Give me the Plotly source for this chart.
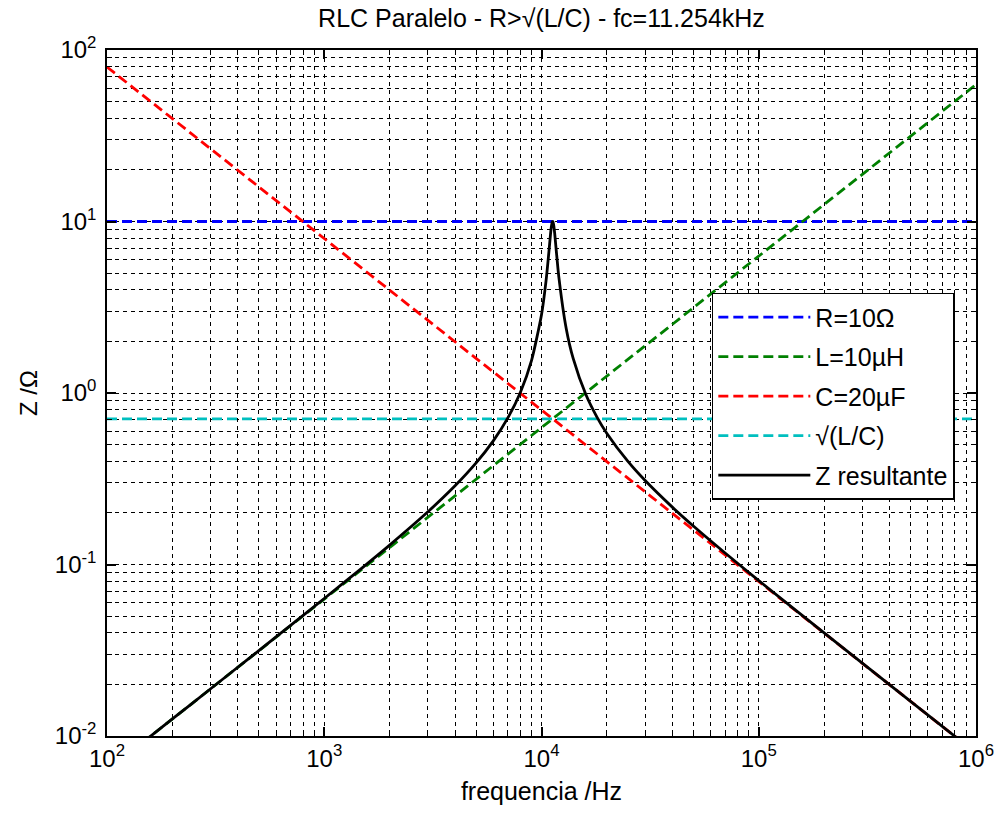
import plotly.graph_objects as go

# ---- data ----
freq_ends = [100, 1000000]
R_vals = [10, 10]
L_vals = [0.0062832, 62.832]
C_vals = [79.577, 0.0079577]
sq_vals = [0.7071, 0.7071]

z_freq = [100, 150, 200, 300, 500, 700, 1000, 1500, 2000, 3000, 4000, 5000, 6000, 7000,
          8000, 9000, 10000, 10500, 10800, 11000, 11100, 11200, 11254, 11300, 11400, 11500,
          11700, 12000, 13000, 14000, 16000, 18000, 20000, 25000, 30000, 40000, 50000,
          70000, 100000, 200000, 500000, 1000000]
z_vals = [0.006284, 0.009427, 0.01257, 0.018863, 0.031478, 0.044153, 0.063331, 0.095948,
          0.12975, 0.20287, 0.28755, 0.39112, 0.52597, 0.71553, 1.01092, 1.54988, 2.86103,
          4.5393, 6.5136, 8.4008, 9.3178, 9.9088, 10.0, 9.9339, 9.3949, 8.5305, 6.7278,
          4.8222, 2.37303, 1.58616, 0.97961, 0.72391, 0.58126, 0.39889, 0.30855, 0.216,
          0.16762, 0.11669, 0.080596, 0.039915, 0.015924, 0.0079588]

x_tickvals = [100, 1000, 10000, 100000, 1000000]
x_ticktext = ["10<sup>2</sup>", "10<sup>3</sup>", "10<sup>4</sup>", "10<sup>5</sup>", "10<sup>6</sup>"]
y_tickvals = [0.01, 0.1, 1, 10, 100]
y_ticktext = ["10<sup>-2</sup>", "10<sup>-1</sup>", "10<sup>0</sup>", "10<sup>1</sup>", "10<sup>2</sup>"]

names = ["R=10Ω", "L=10µH", "C=20µF", "√(L/C)", "Z resultante"]
colors = ["#0000FF", "#008000", "#FF0000", "#00BFBF", "#000000"]

FONT = "Liberation Sans, Arial, sans-serif"

fig = go.Figure()
for i, (vals, nm, col) in enumerate(zip([R_vals, L_vals, C_vals, sq_vals], names[:4], colors[:4])):
    fig.add_trace(go.Scatter(x=freq_ends, y=vals, mode="lines", name=nm, legendgroup=str(i),
                             line=dict(color=col, width=2.8, dash="10px,5px")))
fig.add_trace(go.Scatter(x=z_freq, y=z_vals, mode="lines", name=names[4], legendgroup="4",
                         line=dict(color=colors[4], width=2.8, shape="spline", smoothing=0.6)))

axis_common = dict(
    type="log", showline=True, linecolor="black", linewidth=1.5, mirror="allticks",
    ticks="inside", ticklen=9, tickwidth=1.5, tickcolor="black",
    showgrid=True, gridcolor="black", gridwidth=1, griddash="4px,4px",
    zeroline=False, automargin=False,
    tickfont=dict(family=FONT, size=24, color="black"),
    minor=dict(dtick="D1", ticks="inside", ticklen=5, tickcolor="black", tickwidth=1,
               showgrid=True, gridcolor="black", gridwidth=1, griddash="4px,4px"),
)

fig.update_xaxes(range=[2, 6], tickmode="array", tickvals=x_tickvals, ticktext=x_ticktext,
                 title=dict(text="frequencia /Hz", font=dict(family=FONT, size=25, color="black"), standoff=12),
                 **axis_common)
fig.update_yaxes(range=[-2, 2], tickmode="array", tickvals=y_tickvals, ticktext=y_ticktext,
                 ticklabelstandoff=4,
                 title=dict(text="Z /Ω", font=dict(family=FONT, size=24, color="black"), standoff=10),
                 **axis_common)

fig.update_layout(
    width=997, height=818,
    margin=dict(l=107, r=21, t=50, b=82),
    paper_bgcolor="white", plot_bgcolor="white",
    title=dict(text="RLC Paralelo - R>√(L/C) - fc=11.254kHz", x=0.5, xref="paper",
               y=1 - 18 / 818, yanchor="middle", font=dict(family=FONT, size=25, color="black")),
    showlegend=True,
    legend=dict(x=0.696, y=0.646, xanchor="left", yanchor="top", bgcolor="white",
                bordercolor="black", borderwidth=1.5, itemwidth=92, tracegroupgap=4,
                font=dict(family=FONT, size=25, color="black")),
)

fig.write_html("out.html")
